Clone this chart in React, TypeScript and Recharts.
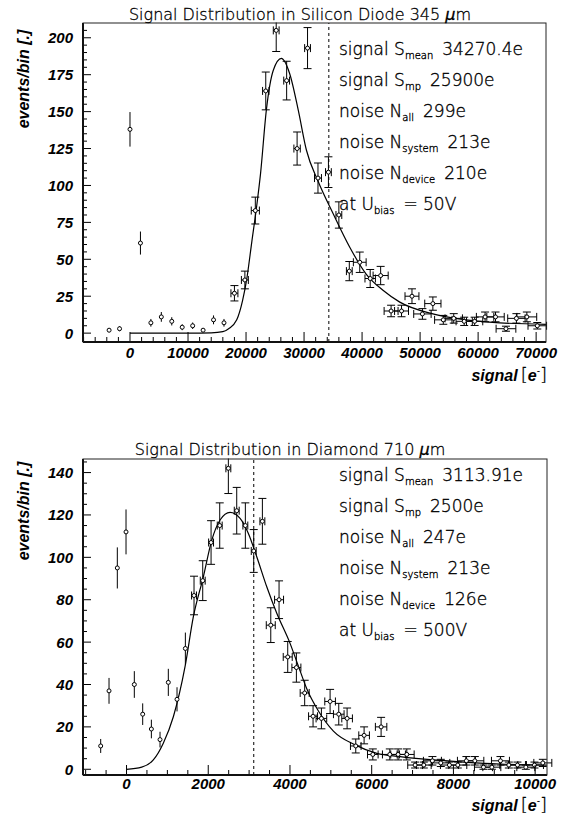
import React from 'react';
import { ComposedChart, Scatter, Line, XAxis, YAxis, ErrorBar, ReferenceLine } from 'recharts';

// ---------- Silicon Diode 345 um ----------
const siX = [
  -3600, -1800, 0, 1800, 3600, 5400, 7200, 9000, 10800, 12600, 14400, 16200,
  18000, 19800, 21600, 23400, 25200, 27000, 28800, 30600, 32400, 34200,
  36000, 37800, 39600, 41400, 43200, 45000, 46800, 48600, 50400, 52200,
  54000, 55800, 57600, 59400, 61200, 63000, 64800, 66600, 68400, 70200,
];
const siY = [
  2, 3, 138, 61, 7, 11, 8, 4, 5, 2, 9, 7,
  27, 36, 83, 164, 205, 171, 125, 193, 105, 109,
  80, 42, 48, 37, 39, 15, 15, 25, 13, 20,
  9, 10, 8, 8, 11, 11, 3, 10, 11, 5,
];
const siErrY = [
  1.4, 1.7, 11.7, 7.8, 2.6, 3.3, 2.8, 2, 2.2, 1.4, 3, 2.6,
  5.2, 6, 9.1, 12.8, 14.3, 13.1, 11.2, 13.9, 10.2, 10.4,
  8.9, 6.5, 6.9, 6.1, 6.2, 3.9, 3.9, 5, 3.6, 4.5,
  3, 3.2, 2.8, 2.8, 3.3, 3.3, 1.7, 3.2, 3.3, 2.2,
];
const siErrX = [
  0, 0, 0, 0, 0, 0, 0, 0, 0, 0, 0, 0,
  600, 600, 700, 550, 500, 500, 550, 500, 600, 500,
  500, 500, 1100, 900, 1300, 1200, 1200, 1200, 1500, 1400,
  1500, 1500, 1400, 1400, 1500, 1500, 1700, 1500, 1700, 1600,
];
const siFitX = [0, 5000, 10000, 14000, 16000, 17000, 18400, 19400, 20100, 21000, 21800, 22500, 23500, 24700, 26100, 27500, 29000, 30400, 32400, 35000, 37900, 40700, 43600, 46500, 52200, 57900, 63700, 71700];
const siFitY = [0, 0, 0, 0.2, 1, 3, 9, 22, 36, 62, 85, 108, 151, 178, 186, 176, 151, 124, 103, 81, 58, 40, 29, 21, 13, 9, 7, 6];
const siXLabels = [0, 10000, 20000, 30000, 40000, 50000, 60000, 70000];
const siYLabels = [0, 25, 50, 75, 100, 125, 150, 175, 200];
const siMean = 34270.4;

// ---------- Diamond 710 um ----------
const diX = [
  -632, -428, -225, -12, 191, 396, 608, 820, 1023, 1236,
  1440, 1652, 1865, 2069, 2281, 2492, 2697, 2908, 3113, 3325,
  3530, 3733, 3945, 4157, 4360, 4565, 4769, 4982, 5194, 5398,
  5610, 5814, 6027, 6230, 6443, 6646, 6859, 7062, 7275, 7486,
  7691, 7902, 8107, 8318, 8524, 8735, 8940, 9151, 9356, 9567,
  9772, 9983, 10188,
];
const diY = [
  11, 37, 95, 112, 40, 26, 19, 14, 41, 33,
  57, 82, 89, 107, 115, 142, 122, 115, 103, 117,
  68, 80, 53, 48, 36, 25, 24, 32, 26, 24,
  11, 16, 7, 20, 7, 7, 7, 2, 2, 4,
  3, 2, 2, 4, 4, 1, 1, 4, 2, 2,
  1, 2, 3,
];
const diErrY = [
  3.3, 6.1, 9.7, 10.6, 6.3, 5.1, 4.4, 3.7, 6.4, 5.7,
  7.5, 9.1, 9.4, 10.3, 10.7, 11.9, 11, 10.7, 10.1, 10.8,
  8.2, 8.9, 7.3, 6.9, 6, 5, 4.9, 5.7, 5.1, 4.9,
  3.3, 4, 2.6, 4.5, 2.6, 2.6, 2.6, 1.4, 1.4, 2,
  1.7, 1.4, 1.4, 2, 2, 1, 1, 2, 1.4, 1.4,
  1, 1.4, 1.7,
];
const diErrX = [
  0, 0, 0, 0, 0, 0, 0, 0, 0, 0,
  0, 60, 60, 60, 60, 60, 60, 60, 60, 60,
  110, 110, 110, 110, 110, 110, 130, 130, 130, 130,
  130, 130, 130, 140, 180, 180, 180, 180, 180, 220,
  220, 220, 220, 220, 220, 220, 220, 220, 220, 220,
  220, 220, 220,
];
const diFitX = [0, 372, 656, 900, 1146, 1432, 1636, 1880, 2085, 2289, 2534, 2779, 2982, 3187, 3432, 3677, 4002, 4200, 4411, 4696, 5063, 5594, 6125, 6695, 7511, 8328, 9143, 10286];
const diFitY = [0, 1, 4.4, 12.3, 24.8, 48.4, 72, 90.8, 108, 117.6, 121.2, 118.4, 111.3, 100.3, 86.1, 73.6, 59.4, 49, 38, 27.5, 18, 11.5, 7.5, 6, 4.4, 3.3, 2.5, 2];
const diXLabels = [0, 2000, 4000, 6000, 8000, 10000];
const diYLabels = [0, 20, 40, 60, 80, 100, 120, 140];
const diMean = 3113.91;

const siStats = [
  ['signal S', 'mean', '34270.4e'],
  ['signal S', 'mp', '25900e'],
  ['noise N', 'all', '299e'],
  ['noise N', 'system', '213e'],
  ['noise N', 'device', '210e'],
  ['at U', 'bias', '= 50V'],
];
const diStats = [
  ['signal S', 'mean', '3113.91e'],
  ['signal S', 'mp', '2500e'],
  ['noise N', 'all', '247e'],
  ['noise N', 'system', '213e'],
  ['noise N', 'device', '126e'],
  ['at U', 'bias', '= 500V'],
];

const range = (a: number, b: number, s: number) => {
  const r: number[] = [];
  for (let v = a; v <= b + 1e-9; v += s) r.push(v);
  return r;
};

const BOLD = '"Liberation Sans", Arial, sans-serif';
const THIN = '"DejaVu Sans", sans-serif';

const makeXTick = (labels: number[], dy: number) => (props: any) => {
  const { x, y, payload } = props;
  const major = labels.includes(payload.value);
  return (
    <g>
      <line x1={x} x2={x} y1={y} y2={y - (major ? 10 : 5)} stroke="#000" strokeWidth={1} />
      {major && (
        <text x={x} y={y + dy} textAnchor="middle" fontFamily={BOLD} fontWeight="bold" fontStyle="italic" fontSize={15} fill="#000">
          {payload.value}
        </text>
      )}
    </g>
  );
};

const makeYTick = (labels: number[]) => (props: any) => {
  const { x, y, payload } = props;
  const major = labels.includes(payload.value);
  return (
    <g>
      <line x1={x} x2={x + (major ? 8 : 4)} y1={y} y2={y} stroke="#000" strokeWidth={1} />
      {major && (
        <text x={x - 10} y={y} dy="0.36em" textAnchor="end" fontFamily={BOLD} fontWeight="bold" fontStyle="italic" fontSize={15} fill="#000">
          {payload.value}
        </text>
      )}
    </g>
  );
};

const marker = (p: any) => <circle cx={p.cx} cy={p.cy} r={2} fill="#fff" stroke="#000" strokeWidth={1} />;

function Panel(props: any) {
  const { xs, ys, eys, exs, fx, fy, xDomain, yDomain, xTicks, xLabels, yTicks, yLabels, mean, height, top, right, xAxisH, labelDy } = props;
  const points = xs.map((x: number, i: number) => ({ x, y: ys[i], ey: eys[i], ex: exs[i] }));
  // points without a horizontal error are drawn without end caps, as in the original
  const plain = points.filter((p: any) => p.ex === 0);
  const capped = points.filter((p: any) => p.ex !== 0);
  const fit = fx.map((x: number, i: number) => ({ x, y: fy[i] }));
  return (
    <ComposedChart width={569} height={height} margin={{ top, right, left: 0, bottom: 0 }}>
      <XAxis
        type="number"
        dataKey="x"
        domain={xDomain}
        allowDataOverflow
        ticks={xTicks}
        interval={0}
        tickSize={0}
        tickMargin={0}
        tickLine={false}
        tick={makeXTick(xLabels, labelDy)}
        axisLine={{ stroke: '#000', strokeWidth: 2 }}
        height={xAxisH}
      />
      <YAxis
        type="number"
        domain={yDomain}
        allowDataOverflow
        ticks={yTicks}
        interval={0}
        tickSize={0}
        tickMargin={0}
        tickLine={false}
        tick={makeYTick(yLabels)}
        axisLine={{ stroke: '#000', strokeWidth: 2 }}
        width={83}
      />
      <ReferenceLine x={mean} stroke="#000" strokeWidth={1} strokeDasharray="3 3" />
      <Scatter data={plain} dataKey="y" shape={marker} isAnimationActive={false}>
        <ErrorBar dataKey="ey" direction="y" width={0} stroke="#000" strokeWidth={1} />
      </Scatter>
      <Scatter data={capped} dataKey="y" shape={marker} isAnimationActive={false}>
        <ErrorBar dataKey="ey" direction="y" width={4} stroke="#000" strokeWidth={1} />
        <ErrorBar dataKey="ex" direction="x" width={4} stroke="#000" strokeWidth={1} />
      </Scatter>
      <Line data={fit} dataKey="y" type="monotone" dot={false} stroke="#000" strokeWidth={1.2} isAnimationActive={false} />
    </ComposedChart>
  );
}

function StatsText({ lines, x, y0, step }: any) {
  return (
    <g fontFamily={THIN} fontWeight={200} fontSize={17} fill="#000" stroke="#000" strokeWidth={0.35}>
      {lines.map((l: string[], i: number) => (
        <text key={i} x={x} y={y0 + i * step}>
          <tspan>{l[0]}</tspan>
          <tspan fontSize={10} dy={4}>{l[1]}</tspan>
          <tspan dy={-4} dx={9}>{l[2]}</tspan>
        </text>
      ))}
    </g>
  );
}

function XTitle({ x, y }: any) {
  return (
    <text x={x} y={y} textAnchor="end" fill="#000" fontFamily={BOLD} fontSize={16}>
      <tspan fontWeight="bold" fontStyle="italic">signal</tspan>
      <tspan fontFamily={THIN} fontWeight={200} fontSize={18} dx={3} stroke="#000" strokeWidth={0.3}>[</tspan>
      <tspan fontWeight="bold" fontStyle="italic">e</tspan>
      <tspan fontSize={10} dy={-7}>-</tspan>
      <tspan fontFamily={THIN} fontWeight={200} fontSize={18} dy={7} stroke="#000" strokeWidth={0.3}>]</tspan>
    </text>
  );
}

function YTitle({ x, y }: any) {
  return (
    <text transform={`translate(${x},${y}) rotate(-90)`} textAnchor="middle" fill="#000" fontFamily={BOLD} fontWeight="bold" fontStyle="italic" fontSize={16}>
      events/bin [.]
    </text>
  );
}

export default function App() {
  return (
    <div style={{ position: 'absolute', left: 0, top: 0, width: 569, height: 821, background: '#fff', overflow: 'hidden' }}>
      <div style={{ position: 'absolute', left: 0, top: 0 }}>
        <Panel
          xs={siX} ys={siY} eys={siErrY} exs={siErrX} fx={siFitX} fy={siFitY}
          xDomain={[-8100, 71700]} yDomain={[-6, 210]}
          xTicks={range(-8000, 70000, 2000)} xLabels={siXLabels}
          yTicks={range(0, 205, 5)} yLabels={siYLabels}
          mean={siMean} height={400} top={23} right={23} xAxisH={58} labelDy={16}
        />
      </div>
      <div style={{ position: 'absolute', left: 0, top: 420 }}>
        <Panel
          xs={diX} ys={diY} eys={diErrY} exs={diErrX} fx={diFitX} fy={diFitY}
          xDomain={[-1065, 10290]} yDomain={[-2.7, 146.4]}
          xTicks={range(-1000, 10000, 500)} xLabels={diXLabels}
          yTicks={range(0, 145, 5)} yLabels={diYLabels}
          mean={diMean} height={401} top={39} right={22} xAxisH={46} labelDy={14}
        />
      </div>
      <svg width={569} height={821} style={{ position: 'absolute', left: 0, top: 0, pointerEvents: 'none' }}>
        {/* error bars are cut at the top frame, as in the original */}
        <rect x={84} y={0} width={470} height={22.5} fill="#fff" />
        <rect x={84} y={420} width={470} height={38.5} fill="#fff" />
        <rect x={83} y={23} width={463} height={319} fill="none" stroke="#222" strokeWidth={1} />
        <rect x={83} y={459} width={464} height={316} fill="none" stroke="#222" strokeWidth={1} />
        <g fontFamily={THIN} fontWeight={200} fontSize={16} fill="#000" stroke="#000" strokeWidth={0.3}>
          <text x={300} y={20} textAnchor="middle">
            Signal Distribution in Silicon Diode 345 <tspan fontStyle="italic">μ</tspan>m
          </text>
          <text x={290} y={455} textAnchor="middle">
            Signal Distribution in Diamond 710 <tspan fontStyle="italic">μ</tspan>m
          </text>
        </g>
        <StatsText lines={siStats} x={339} y0={55} step={31} />
        <StatsText lines={diStats} x={339} y0={481} step={31} />
        <XTitle x={547} y={381} />
        <XTitle x={547} y={811} />
        <YTitle x={29} y={79} />
        <YTitle x={29} y={511} />
      </svg>
    </div>
  );
}
